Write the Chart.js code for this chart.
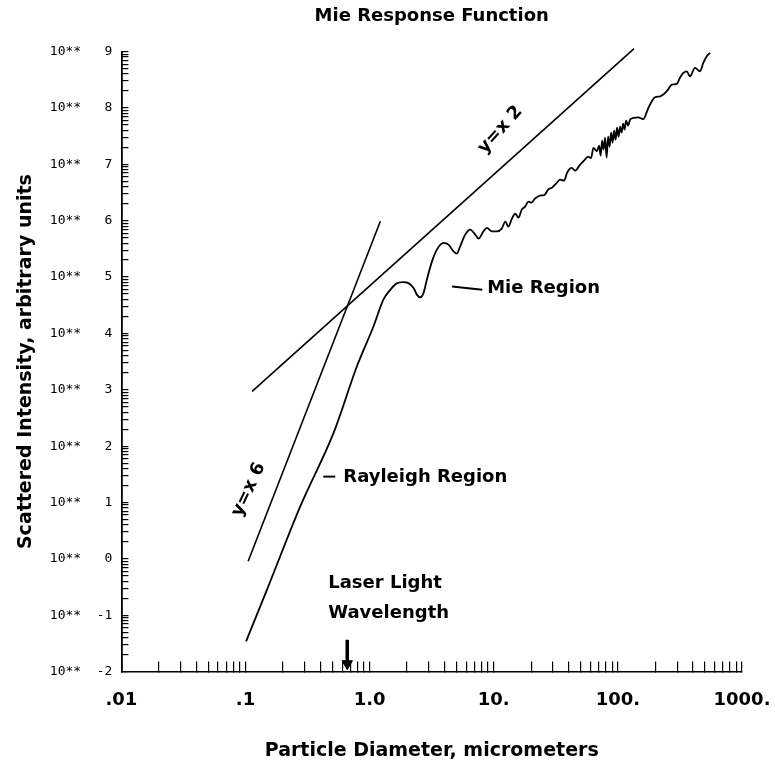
<!DOCTYPE html>
<html>
<head>
<meta charset="utf-8">
<script src="https://cdn.jsdelivr.net/npm/chart.js@4.4.1/dist/chart.umd.min.js"></script>
<style>
  body { margin: 0; background: #fff; }
  canvas { display: block; }
</style>
</head>
<body>
<canvas id="chart" width="775" height="765"></canvas>
<script>
"use strict";

// x tick labels, one per decade
var xDecades = [0.01, 0.1, 1, 10, 100, 1000];
var xTickText = ['.01', '.1', '1.0', '10.', '100.', '1000.'];

// y decades, printed as 10** n
var yExponents = [-2, -1, 0, 1, 2, 3, 4, 5, 6, 7, 8, 9];

// Mie response curve (particle diameter in micrometers, intensity)
var mieX = [
	0.101, 0.149, 0.276, 0.512, 0.790, 1.075, 1.29, 1.47, 1.64, 1.86,
	2.05, 2.26, 2.40, 2.56, 2.72, 2.89, 3.18, 3.48, 3.94, 4.32,
	4.74, 5.05, 5.36, 5.89, 6.46, 7.09, 7.53, 8.26, 8.80, 9.65,
	10.6, 11.6, 12.4, 13.1, 14.0, 14.9, 15.8, 16.8, 17.9, 19.0,
	20.0, 21.5, 23.6, 25.5, 27.4, 29.5, 31.8, 34.2, 36.9, 39.0,
	42.5, 45.2, 49.6, 53.4, 57.5, 60.8, 63.5, 67.6, 70.6, 72.6,
	74.6, 76.7, 78.9, 81.1, 83.4, 85.7, 88.2, 90.6, 93.2, 95.8,
	98.5, 101.3, 104.2, 107.1, 110.1, 113.2, 116.4, 120.8, 125.4, 133.3,
	146, 160, 176, 199, 219, 248, 272, 298, 317, 337,
	359, 381, 418, 459, 488, 520, 553
];
var mieY = [
	0.0344, 0.285, 8.55, 172, 2610, 1.34e4, 3.98e4, 5.99e4, 7.65e4, 8.13e4,
	7.81e4, 6.42e4, 4.88e4, 4.37e4, 5.23e4, 9.01e4, 1.90e5, 3.07e5, 4.04e5, 3.76e5,
	2.86e5, 2.61e5, 3.51e5, 5.66e5, 6.95e5, 5.66e5, 4.81e5, 6.48e5, 7.45e5, 6.48e5,
	6.48e5, 7.24e5, 9.63e5, 7.85e5, 1.09e6, 1.34e6, 1.13e6, 1.57e6, 1.78e6, 2.18e6,
	2.09e6, 2.47e6, 2.79e6, 2.84e6, 3.56e6, 3.86e6, 4.55e6, 5.36e6, 5.14e6, 7.13e6,
	8.64e6, 7.74e6, 9.89e6, 1.16e7, 1.37e7, 1.29e7, 1.96e7, 1.70e7, 2.15e7, 1.43e7,
	2.64e7, 1.83e7, 2.98e7, 1.32e7, 3.10e7, 2.06e7, 3.66e7, 2.43e7, 3.97e7, 2.75e7,
	4.48e7, 3.10e7, 4.67e7, 3.66e7, 5.28e7, 4.13e7, 5.97e7, 4.86e7, 6.22e7, 6.66e7,
	6.83e7, 6.34e7, 1.00e8, 1.55e8, 1.61e8, 1.98e8, 2.60e8, 2.67e8, 3.46e8, 4.19e8,
	4.47e8, 3.65e8, 5.14e8, 4.47e8, 6.30e8, 8.25e8, 9.48e8
];

// reference slopes
var slope2X = [0.113, 135];
var slope2Y = [940, 1.13e9];
var slope6X = [0.105, 1.22];
var slope6Y = [0.906, 9.75e5];

// laser light wavelength arrow
var laserX = [0.66, 0.66];
var laserY = [0.0369, 0.0138];

// text notes on the plot (placed in data units)
var notes = [
	{ text: 'y=x 2', x: 11.3, y: 4.1e7, angle: -48, align: 'center' },
	{ text: 'y=x 6', x: 0.106, y: 16.9, angle: -65, align: 'center' },
	{ text: 'Rayleigh Region', x: 0.613, y: 28, angle: 0, align: 'left' },
	{ text: 'Mie Region', x: 8.85, y: 6.37e4, angle: 0, align: 'left' },
	{ text: 'Laser Light', x: 0.464, y: 0.364, angle: 0, align: 'left' },
	{ text: 'Wavelength', x: 0.464, y: 0.107, angle: 0, align: 'left' }
];
var dashes = [
	{ x: [0.423, 0.528], y: [28.8, 28.8] },
	{ x: [4.62, 8.07], y: [6.77e4, 5.98e4] }
];

function pts(xs, ys) {
	return xs.map(function(x, i) { return { x: x, y: ys[i] }; });
}

function logTicks(fromExp, toExp) {
	var out = [];
	for (var e = fromExp; e < toExp; e++) {
		for (var m = 1; m <= 9; m++) out.push({ value: Number((m * Math.pow(10, e)).toPrecision(6)) });
	}
	out.push({ value: Math.pow(10, toExp) });
	return out;
}

function isDecade(v) {
	var l = Math.log10(v);
	return Math.abs(l - Math.round(l)) < 1e-6;
}

var notePlugin = {
	id: 'notes',
	afterDatasetsDraw: function(chart) {
		var ctx = chart.ctx, sx = chart.scales.x, sy = chart.scales.y;
		ctx.save();
		ctx.fillStyle = '#000';
		ctx.strokeStyle = '#000';
		ctx.lineWidth = 2;
		dashes.forEach(function(d) {
			ctx.beginPath();
			ctx.moveTo(sx.getPixelForValue(d.x[0]), sy.getPixelForValue(d.y[0]));
			ctx.lineTo(sx.getPixelForValue(d.x[1]), sy.getPixelForValue(d.y[1]));
			ctx.stroke();
		});
		ctx.font = 'bold 18px "DejaVu Sans"';
		ctx.textBaseline = 'middle';
		notes.forEach(function(n) {
			ctx.save();
			ctx.translate(sx.getPixelForValue(n.x), sy.getPixelForValue(n.y));
			ctx.rotate(n.angle * Math.PI / 180);
			ctx.textAlign = n.align;
			ctx.fillText(n.text, 0, 0);
			ctx.restore();
		});
		ctx.restore();
	}
};

Chart.defaults.font.family = '"DejaVu Sans"';
Chart.defaults.color = '#000';

new Chart(document.getElementById('chart'), {
	type: 'line',
	data: {
		datasets: [
			{ data: pts(mieX, mieY), borderColor: '#000', borderWidth: 1.8, pointRadius: 0, cubicInterpolationMode: 'monotone', clip: false },
			{ data: pts(slope2X, slope2Y), borderColor: '#000', borderWidth: 1.6, pointRadius: 0, tension: 0, clip: false },
			{ data: pts(slope6X, slope6Y), borderColor: '#000', borderWidth: 1.6, pointRadius: 0, tension: 0, clip: false },
			{
				data: pts(laserX, laserY), borderColor: '#000', borderWidth: 3.5,
				pointRadius: [0, 6], pointStyle: 'triangle', rotation: 180,
				pointBackgroundColor: '#000', pointBorderColor: '#000', pointBorderWidth: 1, clip: false
			}
		]
	},
	options: {
		responsive: false,
		animation: false,
		devicePixelRatio: 1,
		layout: { padding: { left: 0, right: 33, top: 0, bottom: 0 } },
		plugins: {
			legend: { display: false },
			tooltip: { enabled: false },
			title: {
				display: true,
				text: 'Mie Response Function',
				fullSize: false,
				color: '#000',
				font: { family: '"DejaVu Sans"', size: 18, weight: 'bold' },
				padding: { top: 6, bottom: 24 }
			}
		},
		scales: {
			x: {
				type: 'logarithmic',
				position: 'bottom',
				min: 0.01,
				max: 1000,
				afterBuildTicks: function(scale) { scale.ticks = logTicks(-2, 3); },
				// the end labels may hang past the axis, as in the original plot
				afterFit: function(scale) { scale.paddingLeft = 0; scale.paddingRight = 0; },
				grid: { display: true, drawOnChartArea: false, drawTicks: true, tickLength: -10, color: '#000', lineWidth: 1.2 },
				border: { display: true, color: '#000', width: 1.6 },
				ticks: {
					autoSkip: false, maxRotation: 0, padding: 28, color: '#000',
					font: { family: '"DejaVu Sans"', size: 18, weight: 'bold' },
					callback: function(v) {
						for (var i = 0; i < xDecades.length; i++) {
							if (Math.abs(Math.log10(v) - Math.log10(xDecades[i])) < 1e-6) return xTickText[i];
						}
						return '';
					}
				},
				title: {
					display: true, text: 'Particle Diameter, micrometers', color: '#000',
					font: { family: '"DejaVu Sans"', size: 19, weight: 'bold' },
					padding: { top: 0, bottom: 3 }
				}
			},
			y: {
				type: 'logarithmic',
				position: 'left',
				min: 0.01,
				max: 1e9,
				afterBuildTicks: function(scale) { scale.ticks = logTicks(yExponents[0], yExponents[yExponents.length - 1]); },
				grid: { display: true, drawOnChartArea: false, drawTicks: true, tickLength: -7, color: '#000', lineWidth: 1.2 },
				border: { display: true, color: '#000', width: 1.8 },
				ticks: {
					autoSkip: false, padding: 16, color: '#000',
					font: { family: '"DejaVu Sans Mono"', size: 13 },
					callback: function(v) {
						if (!isDecade(v)) return '';
						var e = Math.round(Math.log10(v));
						return yExponents.indexOf(e) >= 0 ? '10**' + String(e).padStart(4) : '';
					}
				},
				title: {
					display: true, text: 'Scattered Intensity, arbitrary units', color: '#000',
					font: { family: '"DejaVu Sans"', size: 19, weight: 'bold' },
					padding: { top: 15, bottom: -4 }
				}
			}
		}
	},
	plugins: [notePlugin]
});
</script>
</body>
</html>
